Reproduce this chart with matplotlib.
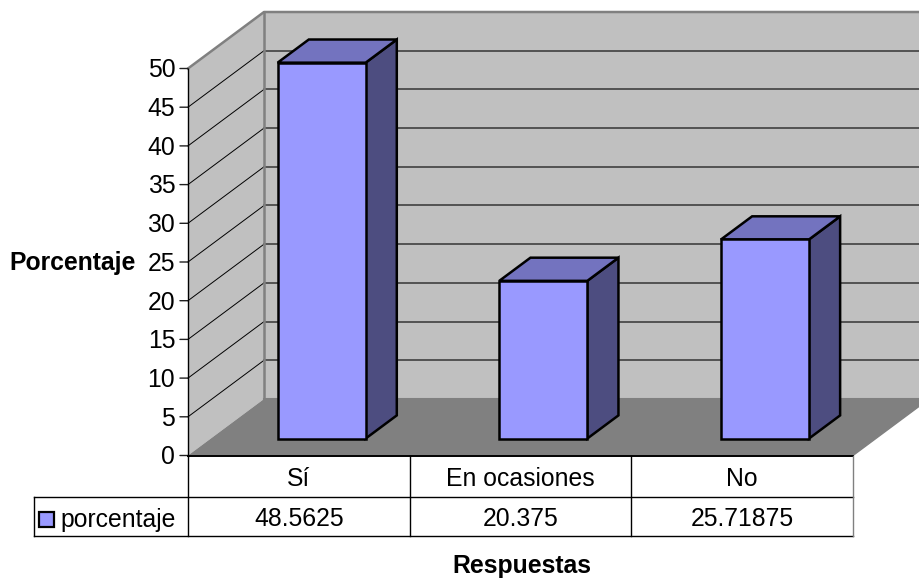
import matplotlib
matplotlib.use("Agg")
import matplotlib.pyplot as plt
from matplotlib.patches import Polygon, Rectangle

plt.rcParams['font.family'] = ['Liberation Sans', 'DejaVu Sans']

categories = ["Sí", "En ocasiones", "No"]
porcentaje = [48.5625, 20.375, 25.71875]
value_ticks = [0, 5, 10, 15, 20, 25, 30, 35, 40, 45, 50]
series_name = "porcentaje"
y_title = "Porcentaje"
x_title = "Respuestas"

W, H = 919, 578
PLOT_L, PLOT_R, PLOT_BOTTOM, PLOT_TOP = 188, 853, 455.5, 68.5

# Oblique depth vector of the 3D box, in category and value units
DEPTH_X = 76 / ((PLOT_R - PLOT_L) / 3)
DEPTH_Y = 56.5 / ((PLOT_BOTTOM - PLOT_TOP) / 50)

BAR_W = 0.397
BAR_NEAR, BAR_FAR = 0.30, 0.71

WALL, FLOOR, EDGE = "#C0C0C0", "#808080", "#808080"
FACE, TOP, SIDE = "#9999FF", "#7373BF", "#4D4D80"
FONT_SIZE = 17.8

fig = plt.figure(figsize=(W / 100, H / 100), dpi=100, facecolor="white")
ax = fig.add_axes([PLOT_L / W, 1 - PLOT_BOTTOM / H,
                   (PLOT_R - PLOT_L) / W, (PLOT_BOTTOM - PLOT_TOP) / H])
ax.set_xlim(0, len(categories))
ax.set_ylim(0, 50)
ax.axis("off")


def proj(x, v, d=0.0):
    """Project category x, value v and depth d onto the axes plane."""
    return (x + d * DEPTH_X, v + d * DEPTH_Y)


def poly(points, **kw):
    ax.add_patch(Polygon(points, closed=True, clip_on=False, **kw))


n = len(categories)

# Walls and floor
poly([proj(0, 0), proj(0, 50), proj(0, 50, 1), proj(0, 0, 1)],
     facecolor=WALL, edgecolor="none", zorder=1)
poly([proj(0, 0, 1), proj(0, 50, 1), proj(n, 50, 1), proj(n, 0, 1)],
     facecolor=WALL, edgecolor="none", zorder=1)
poly([proj(0, 0), proj(0, 0, 1), proj(n, 0, 1), proj(n, 0)],
     facecolor=FLOOR, edgecolor="none", zorder=2)

# Gridlines on the side and back walls
for v in value_ticks[1:-1]:
    a, b, c = proj(0, v), proj(0, v, 1), proj(n, v, 1)
    ax.plot([a[0], b[0]], [a[1], b[1]], color="#000000", lw=0.7, zorder=3, clip_on=False)
    ax.plot([b[0], c[0]], [b[1], c[1]], color="#404040", lw=1.2, zorder=3, clip_on=False)

# Wall outlines
a, b, c = proj(0, 50), proj(0, 50, 1), proj(n, 50, 1)
ax.plot([a[0], b[0], c[0]], [a[1], b[1], c[1]], color=EDGE, lw=1.8, zorder=3, clip_on=False)
a, b = proj(0, 0, 1), proj(0, 50, 1)
ax.plot([a[0], b[0]], [a[1], b[1]], color=EDGE, lw=1.8, zorder=3, clip_on=False)
a, b = proj(n, 0), proj(n, 0, 1)
ax.plot([a[0], b[0]], [a[1], b[1]], color=EDGE, lw=1.0, zorder=3, clip_on=False)
a, b = proj(0, 0, 1), proj(n, 0, 1)
ax.plot([a[0], b[0]], [a[1], b[1]], color=EDGE, lw=1.5, zorder=2.5, clip_on=False)

# Bars as extruded boxes
bar_style = dict(edgecolor="black", lw=1.8, joinstyle="miter", zorder=5)
for i, val in enumerate(porcentaje):
    x0 = i + 0.5 - BAR_W / 2
    x1 = i + 0.5 + BAR_W / 2
    poly([proj(x1, 0, BAR_NEAR), proj(x1, 0, BAR_FAR),
          proj(x1, val, BAR_FAR), proj(x1, val, BAR_NEAR)], facecolor=SIDE, **bar_style)
    poly([proj(x0, val, BAR_NEAR), proj(x0, val, BAR_FAR),
          proj(x1, val, BAR_FAR), proj(x1, val, BAR_NEAR)], facecolor=TOP, **bar_style)
    poly([proj(x0, 0, BAR_NEAR), proj(x0, val, BAR_NEAR),
          proj(x1, val, BAR_NEAR), proj(x1, 0, BAR_NEAR)], facecolor=FACE, **bar_style)

# Value axis with outward ticks and labels
ax.plot([0, 0], [0, 50], color="black", lw=1.0, zorder=6, clip_on=False)
for v in value_ticks:
    ax.annotate("", xy=(0, v), xytext=(-5.8, 0), xycoords="data", textcoords="offset points",
                arrowprops=dict(arrowstyle="-", color="#202020", lw=1.0, shrinkA=0, shrinkB=0),
                annotation_clip=False)
    ax.annotate(str(v), xy=(0, v), xytext=(-9.2, -6.4), textcoords="offset points",
                ha="right", va="baseline", fontsize=FONT_SIZE, color="black",
                annotation_clip=False)

# Overlay in pixel units for the data table and axis titles
ov = fig.add_axes([0, 0, 1, 1], facecolor="none")
ov.set_xlim(0, W)
ov.set_ylim(H, 0)
ov.axis("off")

ROW0, ROW1, ROW2 = 455.5, 497, 536
COL_KEY = 33.5
col_w = (PLOT_R - PLOT_L) / n
line = dict(color="black", lw=1.0, solid_capstyle="projecting", zorder=6)

ov.plot([PLOT_L, PLOT_R], [ROW0, ROW0], color="black", lw=1.4, zorder=6)
ov.plot([COL_KEY, PLOT_R], [ROW1, ROW1], **line)
ov.plot([COL_KEY, PLOT_R], [ROW2, ROW2], **line)
ov.plot([COL_KEY, COL_KEY], [ROW1, ROW2], **line)
ov.plot([PLOT_L, PLOT_L], [ROW0, ROW2], **line)
for j in range(1, n):
    ov.plot([PLOT_L + j * col_w] * 2, [ROW0, ROW2], **line)
ov.plot([PLOT_R, PLOT_R], [ROW0, ROW2], color=EDGE, lw=1.0, zorder=6)

for j, (cat, val) in enumerate(zip(categories, porcentaje)):
    cx = PLOT_L + (j + 0.5) * col_w
    ov.text(cx, 485.5, cat, ha="center", va="baseline", fontsize=FONT_SIZE, color="black")
    ov.text(cx, 526, str(val), ha="center", va="baseline", fontsize=FONT_SIZE, color="black")

ov.add_patch(Rectangle((39, 512), 15, 15, facecolor=FACE, edgecolor="black", lw=1.6, zorder=6))
ov.text(60, 527, series_name, ha="left", va="baseline", fontsize=FONT_SIZE, color="black")

ov.text(72.5, 270, y_title, ha="center", va="baseline", fontsize=FONT_SIZE, fontweight="bold", color="black")
ov.text(521.5, 572.5, x_title, ha="center", va="baseline", fontsize=FONT_SIZE, fontweight="bold", color="black")

fig.savefig("out.png", dpi=100, facecolor="white")
